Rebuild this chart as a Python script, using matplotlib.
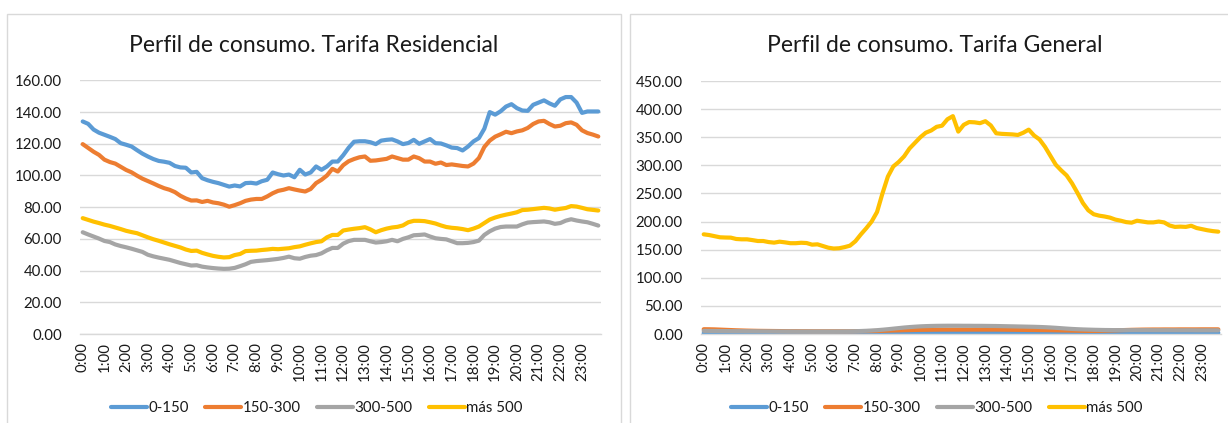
import matplotlib
matplotlib.use("Agg")
import matplotlib.pyplot as plt
from matplotlib.patches import Rectangle

plt.rcParams['font.family'] = ['Lato', 'DejaVu Sans']

series_names = ["0-150", "150-300", "300-500", "más 500"]
colors = ["#5B9BD5", "#ED7D31", "#A5A5A5", "#FFC000"]
hour_labels = [f"{h}:00" for h in range(24)]

res_0_150 = [134.1, 132.6, 129.0, 127.0, 125.7, 124.4, 123.0, 120.4, 119.4, 118.3,
             116.0, 113.8, 112.0, 110.4, 109.2, 108.7, 108.0, 106.0, 105.1, 104.9,
             101.9, 102.3, 98.3, 97.0, 96.0, 95.2, 94.1, 93.0, 93.7, 93.1,
             95.2, 95.4, 94.9, 96.4, 97.3, 101.9, 100.8, 100.0, 100.6, 98.9,
             103.6, 100.6, 101.9, 105.7, 103.6, 105.7, 108.8, 108.8, 112.8, 117.5,
             121.3, 121.6, 121.6, 121.0, 119.8, 122.0, 122.5, 122.8, 121.5, 119.8,
             120.5, 122.5, 120.0, 121.5, 123.0, 120.4, 120.2, 119.0, 117.6, 117.3,
             115.8, 118.3, 121.5, 123.6, 129.5, 140.0, 138.4, 140.5, 143.5, 145.0,
             142.5, 141.0, 140.8, 144.6, 146.0, 147.4, 145.5, 144.0, 148.0, 149.5,
             149.5, 146.0, 139.5, 140.4, 140.4, 140.4]
res_150_300 = [119.8, 117.4, 115.0, 113.0, 110.0, 108.5, 107.5, 105.5, 103.5, 102.0,
               99.9, 98.0, 96.5, 95.0, 93.4, 92.0, 91.0, 89.5, 87.2, 85.5,
               84.2, 84.3, 83.3, 84.0, 83.0, 82.5, 81.6, 80.3, 81.3, 82.5,
               84.0, 84.8, 85.2, 85.2, 86.8, 88.8, 90.3, 91.0, 92.0, 91.2,
               90.5, 89.9, 91.5, 95.2, 97.3, 100.0, 104.2, 102.5, 106.5, 109.0,
               110.4, 111.5, 112.0, 109.3, 109.5, 110.0, 110.5, 112.0, 111.0, 110.0,
               110.0, 112.0, 110.9, 108.8, 108.8, 107.4, 108.2, 106.6, 107.0, 106.5,
               106.0, 105.7, 107.5, 111.0, 118.0, 122.0, 124.5, 126.0, 127.6, 126.7,
               127.8, 128.5, 130.0, 132.5, 134.1, 134.5, 132.5, 130.9, 131.4, 133.0,
               133.5, 132.0, 128.5, 126.8, 125.8, 124.6]
res_300_500 = [64.2, 62.8, 61.5, 60.2, 58.7, 58.0, 56.5, 55.5, 54.7, 53.8,
               52.8, 51.8, 50.0, 49.0, 48.2, 47.5, 46.8, 45.8, 44.8, 44.0,
               43.2, 43.4, 42.5, 42.0, 41.6, 41.3, 41.1, 41.2, 41.7, 42.8,
               44.0, 45.5, 46.0, 46.3, 46.6, 47.0, 47.4, 48.0, 48.8, 47.8,
               47.5, 48.6, 49.4, 49.8, 50.9, 52.8, 54.3, 54.3, 57.0, 58.6,
               59.4, 59.4, 59.4, 58.5, 57.7, 58.0, 58.5, 59.4, 58.5, 60.0,
               61.0, 62.3, 62.5, 62.8, 61.5, 60.4, 60.0, 59.7, 58.5, 57.3,
               57.3, 57.5, 58.0, 58.9, 62.5, 64.8, 66.5, 67.5, 67.8, 67.8,
               67.8, 69.2, 70.3, 70.6, 70.8, 71.0, 70.5, 69.5, 70.0, 71.5,
               72.4, 71.6, 71.0, 70.5, 69.5, 68.4]
res_mas_500 = [73.1, 72.0, 70.9, 70.0, 69.0, 68.2, 67.2, 66.2, 65.1, 64.3,
               63.6, 62.3, 61.0, 59.8, 58.8, 57.7, 56.6, 55.6, 54.6, 53.3,
               52.4, 52.6, 51.2, 50.2, 49.3, 48.7, 48.3, 48.5, 49.8, 50.5,
               52.3, 52.5, 52.6, 53.0, 53.3, 53.7, 53.5, 53.8, 54.1, 54.8,
               55.3, 56.3, 57.2, 58.0, 58.5, 61.0, 62.5, 62.5, 65.3, 65.9,
               66.4, 66.8, 67.4, 66.0, 64.2, 65.5, 66.5, 67.2, 67.6, 68.5,
               70.5, 71.4, 71.4, 71.2, 70.5, 69.7, 68.5, 67.5, 67.0, 66.7,
               66.2, 65.5, 66.5, 67.8, 70.0, 72.2, 73.5, 74.5, 75.3, 76.0,
               76.8, 78.2, 78.4, 78.8, 79.2, 79.6, 79.2, 78.4, 79.0, 79.5,
               80.7, 80.4, 79.6, 78.7, 78.3, 77.9]

gen_0_150 = [1.5, 1.5, 1.5, 1.5, 1.5, 1.5, 1.4, 1.4, 1.4, 1.4,
             1.3, 1.3, 1.3, 1.3, 1.3, 1.3, 1.2, 1.2, 1.2, 1.2,
             1.2, 1.2, 1.2, 1.2, 1.2, 1.2, 1.2, 1.2, 1.3, 1.3,
             1.4, 1.4, 1.5, 1.5, 1.6, 1.6, 1.7, 1.7, 1.8, 1.8,
             1.8, 1.8, 1.8, 1.8, 1.8, 1.8, 1.8, 1.8, 1.8, 1.8,
             1.8, 1.8, 1.8, 1.8, 1.8, 1.8, 1.8, 1.8, 1.8, 1.8,
             1.8, 1.8, 1.8, 1.8, 1.8, 1.8, 1.8, 1.9, 1.9, 2.0,
             2.0, 2.1, 2.2, 2.3, 2.4, 2.5, 2.5, 2.6, 2.6, 2.6,
             2.7, 2.7, 2.7, 2.6, 2.6, 2.6, 2.5, 2.5, 2.4, 2.4,
             2.3, 2.3, 2.2, 2.2, 2.1, 2.1]
gen_150_300 = [8.5, 8.4, 8.2, 7.8, 7.4, 7.0, 6.6, 6.3, 6.0, 5.8,
               5.6, 5.5, 5.4, 5.3, 5.2, 5.1, 5.0, 5.0, 4.9, 4.9,
               4.8, 4.8, 4.8, 4.8, 4.8, 4.8, 4.8, 4.8, 4.9, 5.0,
               5.1, 5.2, 5.4, 5.6, 5.9, 6.2, 6.5, 6.8, 7.0, 7.2,
               7.4, 7.5, 7.6, 7.7, 7.8, 7.8, 7.8, 7.8, 7.8, 7.8,
               7.8, 7.8, 7.8, 7.8, 7.8, 7.7, 7.6, 7.5, 7.4, 7.3,
               7.2, 7.1, 7.0, 6.9, 6.8, 6.6, 6.4, 6.2, 6.0, 5.8,
               5.6, 5.5, 5.5, 5.6, 5.8, 6.1, 6.4, 6.8, 7.1, 7.4,
               7.6, 7.8, 7.9, 8.0, 8.0, 8.1, 8.1, 8.1, 8.2, 8.2,
               8.2, 8.2, 8.3, 8.3, 8.3, 8.3]
gen_300_500 = [5.6, 5.5, 5.4, 5.3, 5.2, 5.1, 5.0, 5.0, 4.9, 4.9,
               4.8, 4.8, 4.7, 4.7, 4.6, 4.6, 4.6, 4.5, 4.5, 4.5,
               4.5, 4.5, 4.5, 4.5, 4.5, 4.6, 4.7, 4.8, 5.0, 5.3,
               5.7, 6.2, 6.8, 7.6, 8.5, 9.5, 10.5, 11.5, 12.3, 13.0,
               13.6, 14.0, 14.3, 14.5, 14.6, 14.7, 14.7, 14.7, 14.6, 14.6,
               14.5, 14.5, 14.4, 14.3, 14.2, 14.0, 13.8, 13.6, 13.4, 13.2,
               13.0, 12.8, 12.5, 12.1, 11.6, 11.0, 10.3, 9.6, 9.0, 8.5,
               8.1, 7.8, 7.5, 7.3, 7.1, 7.0, 6.9, 6.9, 6.8, 6.8,
               6.8, 6.8, 6.8, 6.7, 6.7, 6.7, 6.7, 6.6, 6.6, 6.6,
               6.6, 6.5, 6.5, 6.5, 6.5, 6.5]
gen_mas_500 = [177.3, 176.0, 174.0, 172.0, 171.6, 171.4, 169.0, 168.4, 168.4, 167.0,
               165.4, 165.4, 163.5, 162.5, 164.2, 163.0, 161.5, 161.5, 162.3, 161.8,
               158.9, 159.5, 156.5, 153.5, 152.0, 152.5, 154.5, 157.1, 165.0, 177.0,
               188.0, 200.0, 217.0, 250.0, 280.0, 298.0, 306.0, 316.0, 330.0, 340.0,
               350.0, 358.0, 362.0, 368.5, 370.5, 382.0, 387.5, 360.0, 372.0, 377.0,
               376.5, 375.0, 378.5, 371.0, 357.0, 356.0, 355.5, 355.0, 354.0, 358.0,
               363.5, 353.0, 346.0, 333.0, 317.0, 301.0, 291.0, 282.0, 268.0, 251.0,
               233.0, 220.0, 213.0, 210.5, 209.0, 207.0, 203.5, 201.5, 199.0, 198.0,
               201.5, 200.0, 198.5, 198.5, 200.0, 198.5, 193.0, 190.5, 191.0, 190.5,
               192.5, 188.5, 186.5, 184.5, 183.0, 182.0]

W, H = 1228, 423
fig = plt.figure(figsize=(W / 100, H / 100), dpi=100)
fig.patch.set_facecolor("white")


def px_axes(x0, y0, x1, y1):
    return fig.add_axes([x0 / W, 1 - y1 / H, (x1 - x0) / W, (y1 - y0) / H])


# panel frames
for (x0, y0, x1, y1) in [(7, 14, 621, 440), (630, 14, 1240, 440)]:
    fig.patches.append(Rectangle((x0 / W, 1 - y1 / H), (x1 - x0) / W, (y1 - y0) / H,
                                 transform=fig.transFigure, fill=False,
                                 edgecolor="#D9D9D9", linewidth=1.0))

panels = [
    dict(box=(80, 80.4, 601, 334), title="Perfil de consumo. Tarifa Residencial",
         tx=314, data=[res_0_150, res_150_300, res_300_500, res_mas_500],
         ymax=160, step=20, lx=317),
    dict(box=(701, 81, 1221, 334), title="Perfil de consumo. Tarifa General",
         tx=935, data=[gen_0_150, gen_150_300, gen_300_500, gen_mas_500],
         ymax=450, step=50, lx=937),
]

text_color = "#1a1a1a"
fs = 10.8
for p in panels:
    ax = px_axes(*p["box"])
    n = len(p["data"][0])
    xs = list(range(n))
    handles = []
    for vals, c, name in zip(p["data"], colors, series_names):
        h, = ax.plot(xs, vals, color=c, linewidth=3.0, solid_joinstyle="round",
                     solid_capstyle="round", label=name)
        handles.append(h)
    ax.set_xlim(-0.5, n - 0.5)
    ax.set_ylim(0, p["ymax"])
    yt = list(range(0, p["ymax"] + 1, p["step"]))
    ax.set_yticks(yt)
    ax.set_yticklabels([f"{v:.2f}" for v in yt], fontsize=fs, color=text_color)
    ax.set_xticks(list(range(0, n, 4)))
    ax.set_xticklabels(hour_labels, rotation=90, fontsize=fs, color=text_color)
    ax.tick_params(axis="both", length=0)
    ax.tick_params(axis="y", pad=13)
    ax.tick_params(axis="x", pad=6)
    ax.grid(axis="y", color="#D9D9D9", linewidth=1.0)
    ax.set_axisbelow(True)
    for s in ["top", "right", "left"]:
        ax.spines[s].set_visible(False)
    ax.spines["bottom"].set_color("#D9D9D9")
    ax.spines["bottom"].set_linewidth(1.0)
    fig.text(p["tx"] / W, 1 - 45 / H, p["title"], ha="center", va="center",
             fontsize=16.5, color="#1a1a1a")
    fig.legend(handles=handles, loc="center", bbox_to_anchor=(p["lx"] / W, 1 - 408 / H),
               ncol=4, frameon=False, fontsize=fs, handlelength=2.4,
               handletextpad=0.12, columnspacing=1.05, labelcolor=text_color)

fig.savefig("out.png", dpi=100, facecolor="white")
